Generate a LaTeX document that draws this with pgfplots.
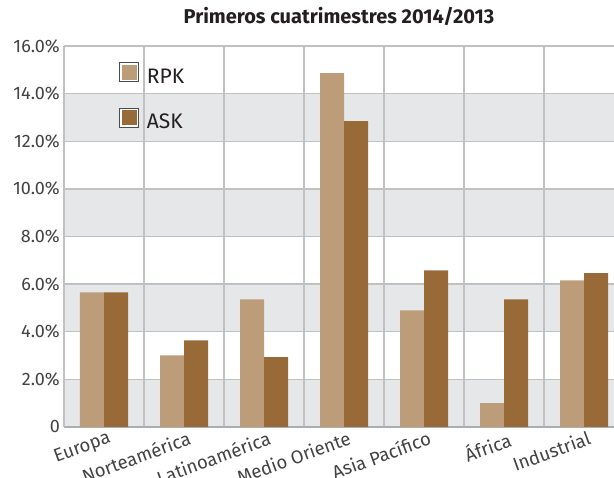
\documentclass[border=0pt]{standalone}
\usepackage{pgfplots}
\pgfplotsset{compat=1.18}
\usepackage{fontspec}
\setmainfont{Fira Sans}
\definecolor{rpk}{HTML}{BD9C7A}
\definecolor{ask}{HTML}{986A38}
\definecolor{band}{HTML}{E6E7E9}
\definecolor{gridc}{HTML}{C0C1C3}
\definecolor{txt}{HTML}{231F20}
\begin{document}
\begin{tikzpicture}
\begin{axis}[
  set layers,
  scale only axis, width=550pt, height=381pt,
  xmin=-0.5, xmax=6.375, ymin=0, ymax=16,
  ybar=0pt, bar width=24pt,
  xtick={0,...,6},
  xticklabels={Europa,Norteamérica,Latinoamérica,Medio Oriente,Asia Pacífico,África,Industrial},
  minor xtick={0.5,1.5,...,5.5},
  xminorgrids, ymajorgrids, xmajorgrids=false,
  ytick={0,2,...,16},
  yticklabels={0,2.0\%,4.0\%,6.0\%,8.0\%,10.0\%,12.0\%,14.0\%,16.0\%},
  major tick length=0pt, minor tick length=0pt,
  axis x line*=bottom, axis y line*=left,
  x axis line style={-, draw=gridc!90!black, line width=2pt},
  y axis line style={-, draw=gridc, line width=1.3pt},
  grid style={draw=gridc, line width=1.3pt},
  minor grid style={draw=gridc, line width=1.3pt},
  yticklabel style={font=\fontsize{18}{20}\selectfont, text=txt!85, inner sep=0pt, xshift=-4pt},
  xticklabel style={font=\fontsize{18.5}{20}\selectfont, text=txt!85, rotate=20, anchor=north east, inner sep=0pt, yshift=-4pt, xshift=2pt},
  title={Primeros cuatrimestres 2014/2013},
  title style={font=\fontsize{20}{22}\selectfont\bfseries, text=txt, at={(0.5,1)}, anchor=base, yshift=16pt},
  legend entries={RPK,ASK},
  legend style={draw=none, fill=none, at={(0.095,0.963)}, anchor=north west,
    font=\fontsize{21}{25}\selectfont, row sep=21pt, text=txt},
  legend cell align=left,
  legend image code/.code={
    \draw[draw=gray!60!black, fill=white, line width=0.8pt] (0pt,-5pt) rectangle (19pt,14pt);
    \fill[#1, draw=none] (2pt,-3pt) rectangle (17pt,12pt);
    \path (25pt,4pt);
  },
]
\begin{pgfonlayer}{axis background}
\fill[band] (axis cs:-0.5,0) rectangle (axis cs:6.375,2);
\fill[band] (axis cs:-0.5,4) rectangle (axis cs:6.375,6);
\fill[band] (axis cs:-0.5,8) rectangle (axis cs:6.375,10);
\fill[band] (axis cs:-0.5,12) rectangle (axis cs:6.375,14);
\end{pgfonlayer}
\addplot[fill=rpk, draw=none] coordinates {(0,5.65) (1,3.01) (2,5.36) (3,14.86) (4,4.90) (5,1.00) (6,6.16)};
\addplot[fill=ask, draw=none] coordinates {(0,5.65) (1,3.64) (2,2.93) (3,12.84) (4,6.58) (5,5.36) (6,6.46)};
\end{axis}
\pgfresetboundingbox
\path[use as bounding box] ([xshift=-64pt,yshift=-51pt]current axis.south west) rectangle ++(614pt,478pt);
\end{tikzpicture}
\end{document}
